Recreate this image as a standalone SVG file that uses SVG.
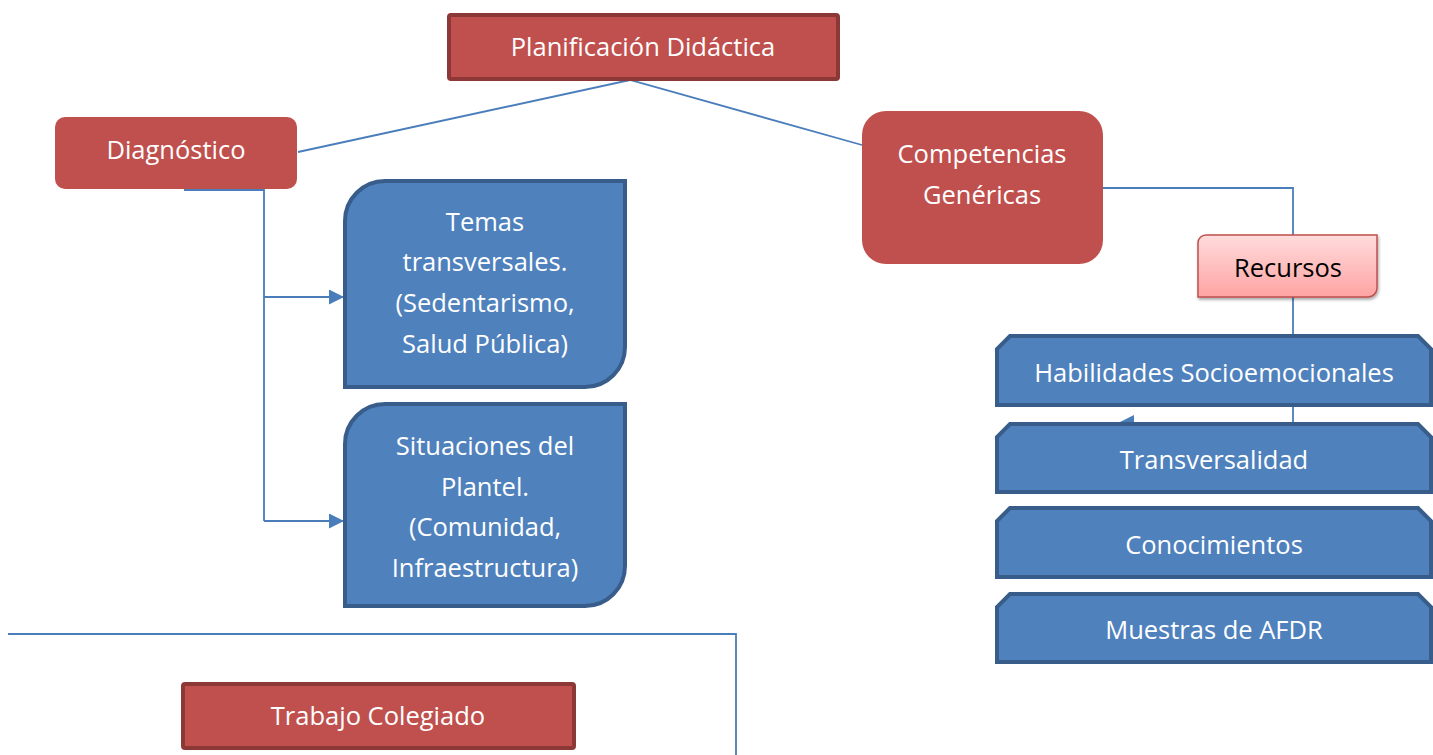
<svg xmlns="http://www.w3.org/2000/svg" width="1433" height="755" viewBox="0 0 1433 755">
<defs>
<style>
.t{font-family:"Open Sans","Liberation Sans",Arial,sans-serif;font-size:25.5px;fill:#fff;text-anchor:middle}
.tb{font-family:"Open Sans","Liberation Sans",Arial,sans-serif;font-size:25.5px;fill:#000;text-anchor:middle}
.red{fill:#C0504D}
.redb{fill:#C0504D;stroke:#8C3836;stroke-width:4}
.blue{fill:#4F81BD;stroke:#385D8A;stroke-width:4}
.ln{fill:none;stroke:#4A7EBB;stroke-width:1.8}
</style>
<marker id="ar" viewBox="0 0 10 10" refX="10" refY="5" markerWidth="15" markerHeight="15" markerUnits="userSpaceOnUse" orient="auto">
<path d="M0,0 L10,5 L0,10 z" fill="#4A7EBB"/>
</marker>
<marker id="ar2" viewBox="0 0 10 10" refX="10" refY="5" markerWidth="16" markerHeight="17" markerUnits="userSpaceOnUse" orient="auto">
<path d="M0,0 L10,5 L0,10 z" fill="#4A7EBB"/>
</marker>
<linearGradient id="pg" x1="0" y1="0" x2="0" y2="1">
<stop offset="0" stop-color="#FFDCDC"/>
<stop offset="1" stop-color="#FFA3A3"/>
</linearGradient>
<filter id="sh" x="-10%" y="-10%" width="130%" height="140%">
<feDropShadow dx="1" dy="2" stdDeviation="1.5" flood-color="#000" flood-opacity="0.35"/>
</filter>
</defs>

<g id="connectors">
<polyline class="ln" points="298,152 630,80 862,145"/>
<polyline class="ln" points="184,190 264,190 264,521"/>
<line class="ln" x1="264" y1="297" x2="344" y2="297" marker-end="url(#ar)"/>
<line class="ln" x1="264" y1="521" x2="344" y2="521" marker-end="url(#ar)"/>
<polyline class="ln" points="1103,188 1293,188 1293,235"/>
<line class="ln" x1="1293" y1="297" x2="1293" y2="423"/>
<line class="ln" x1="1293" y1="423" x2="1118" y2="423" marker-end="url(#ar2)"/>
<polyline class="ln" points="8,634 736,634 736,755"/>
</g>

<g id="planificacion">
<rect class="redb" x="449" y="15" width="389" height="64" rx="2"/>
<text class="t" x="643" y="56">Planificación Didáctica</text>
</g>

<g id="diagnostico">
<rect class="red" x="55" y="117" width="242" height="72" rx="10"/>
<text class="t" x="176" y="159">Diagnóstico</text>
</g>

<g id="temas">
<path class="blue" d="M385,181 H625 V347 A40,40 0 0 1 585,387 H345 V221 A40,40 0 0 1 385,181 Z"/>
<text class="t" x="485" y="231">Temas</text>
<text class="t" x="485" y="271">transversales.</text>
<text class="t" x="485" y="312">(Sedentarismo,</text>
<text class="t" x="485" y="353">Salud Pública)</text>
</g>

<g id="situaciones">
<path class="blue" d="M385,404 H625 V566 A40,40 0 0 1 585,606 H345 V444 A40,40 0 0 1 385,404 Z"/>
<text class="t" x="485" y="455">Situaciones del</text>
<text class="t" x="485" y="496">Plantel.</text>
<text class="t" x="485" y="536">(Comunidad,</text>
<text class="t" x="485" y="577">Infraestructura)</text>
</g>

<g id="competencias">
<rect class="red" x="862" y="111" width="241" height="153" rx="24"/>
<text class="t" x="982" y="163">Competencias</text>
<text class="t" x="982" y="204">Genéricas</text>
</g>

<g id="recursos">
<path d="M1206,235 H1377 V288 A9,9 0 0 1 1368,297 H1198 V243 A8,8 0 0 1 1206,235 Z" fill="url(#pg)" stroke="#C0504D" stroke-width="1.5" filter="url(#sh)"/>
<text class="tb" x="1288" y="277">Recursos</text>
</g>

<g id="habilidades">
<path class="blue" d="M1010,336 H1418 L1431,349 V405 H997 V349 Z"/>
<text class="t" x="1214" y="382">Habilidades Socioemocionales</text>
</g>

<g id="transversalidad">
<path class="blue" d="M1010,424 H1418 L1431,437 V492 H997 V437 Z"/>
<text class="t" x="1214" y="469">Transversalidad</text>
</g>

<g id="conocimientos">
<path class="blue" d="M1010,508 H1418 L1431,521 V577 H997 V521 Z"/>
<text class="t" x="1214" y="554">Conocimientos</text>
</g>

<g id="muestras">
<path class="blue" d="M1010,594 H1418 L1431,607 V662 H997 V607 Z"/>
<text class="t" x="1214" y="639">Muestras de AFDR</text>
</g>

<g id="trabajo">
<rect class="redb" x="183" y="684" width="391" height="64" rx="2"/>
<text class="t" x="378" y="725">Trabajo Colegiado</text>
</g>
</svg>
